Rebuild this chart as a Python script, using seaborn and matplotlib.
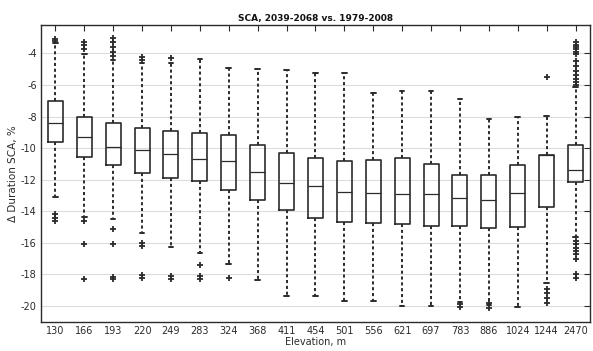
import numpy as np
import pandas as pd
import matplotlib
matplotlib.use("Agg")
import matplotlib.pyplot as plt
import seaborn as sns

# elevation bands (category labels)
elev = ["130", "166", "193", "220", "249", "283", "324", "368", "411", "454",
        "501", "556", "621", "697", "783", "886", "1024", "1244", "2470"]

# box statistics (change in SCA duration, %)
whisk_hi = [-3.35, -4.05, -4.45, -4.6, -4.6, -4.36, -4.95, -4.99, -5.06, -5.22,
            -5.27, -6.53, -6.41, -6.41, -6.87, -8.16, -8.01, -7.95, -6.1]
q3 = [-7.02, -8.01, -8.43, -8.75, -8.92, -9.02, -9.17, -9.8, -10.29, -10.63,
      -10.8, -10.78, -10.61, -11.01, -11.73, -11.73, -11.09, -10.44, -9.8]
med = [-8.39, -9.32, -9.91, -10.12, -10.38, -10.67, -10.84, -11.5, -12.21, -12.38,
       -12.78, -12.87, -12.93, -12.93, -13.18, -13.29, -12.82, -10.44, -11.39]
q1 = [-9.62, -10.54, -11.09, -11.56, -11.9, -12.1, -12.63, -13.31, -13.94, -14.43,
      -14.66, -14.77, -14.83, -14.96, -14.96, -15.06, -15.0, -13.75, -12.17]
whisk_lo = [-13.08, -14.39, -14.51, -15.4, -16.29, -16.67, -17.32, -18.35, -19.37, -19.37,
            -19.66, -19.66, -20.0, -20.0, -19.73, -19.94, -20.09, -18.57, -15.65]

# outliers
out_elev = (["130"] * 5 + ["166"] * 6 + ["193"] * 9 + ["220"] * 6 + ["249"] * 3 +
            ["283"] * 3 + ["324"] + ["783"] * 2 + ["886"] * 2 + ["1244"] * 5 +
            ["2470"] * 21)
out_val = ([-3.2, -3.1, -14.2, -14.4, -14.6] +
           [-3.3, -3.5, -3.7, -14.6, -16.1, -18.3] +
           [-3.0, -3.3, -3.6, -3.9, -4.15, -15.15, -16.1, -18.15, -18.3] +
           [-4.25, -4.4, -16.0, -16.2, -18.05, -18.25] +
           [-4.3, -18.1, -18.3] +
           [-17.4, -18.1, -18.3] +
           [-18.25] +
           [-19.9, -20.05] +
           [-19.8, -20.1] +
           [-5.5, -18.9, -19.2, -19.5, -19.8] +
           [-3.3, -3.45, -3.6, -3.75, -3.9, -4.05, -4.5, -4.8, -5.1, -5.4, -5.6,
            -5.8, -6.0, -15.9, -16.1, -16.3, -16.5, -16.7, -17.0, -18.0, -18.2])

rows = []
for i, e in enumerate(elev):
    for v in [whisk_lo[i], q1[i], med[i], q3[i], whisk_hi[i]]:
        rows.append({"elev": e, "val": v})
box_df = pd.DataFrame(rows)
out_df = pd.DataFrame({"elev": out_elev, "val": out_val})

sns.set_theme(style="white")
plt.rcParams["font.family"] = ["DejaVu Sans"]

line_c = "#2b2b2b"
fig = plt.figure(figsize=(5.93, 3.51), dpi=100)
ax = fig.add_axes([0.069, 0.083, 0.926, 0.846])

ax.grid(True, axis="y", color="#dcdcdc", linewidth=0.8)
ax.grid(True, axis="x", color="#f2f2f2", linewidth=0.8)
ax.set_axisbelow(True)

sns.boxplot(data=box_df, x="elev", y="val", order=elev, whis=(0, 100),
            showfliers=False, fill=False, color=line_c, linecolor=line_c,
            width=0.52, linewidth=1.2, ax=ax,
            whiskerprops=dict(linestyle=(0, (1.6, 1.4)), linewidth=1.4),
            medianprops=dict(color=line_c, linewidth=0.9),
            capprops=dict(linewidth=1.4),
            capwidths=0.16)

sns.stripplot(data=out_df, x="elev", y="val", order=elev, jitter=False,
              marker="+", color=line_c, size=4.5, linewidth=1.3, ax=ax)

ax.set_xlim(-0.5, 18.5)
ax.set_ylim(-21.0, -2.2)
ax.set_yticks(np.arange(-20, -3, 2))
ax.set_yticklabels([str(t) for t in range(-20, -3, 2)])

ax.tick_params(direction="in", top=True, right=True, length=4, width=0.8,
               labelsize=7, colors=line_c, pad=3)
for s in ax.spines.values():
    s.set_color(line_c)
    s.set_linewidth(1.0)

ax.set_title("SCA, 2039-2068 vs. 1979-2008", fontsize=6.5, fontweight="bold",
             color="#111111", pad=3)
ax.set_xlabel("Elevation, m", fontsize=7, color=line_c, labelpad=1)
ax.set_ylabel("\u0394 Duration SCA, %", fontsize=7.5, color=line_c, labelpad=2)

fig.savefig("out.png", dpi=100, facecolor="white")
